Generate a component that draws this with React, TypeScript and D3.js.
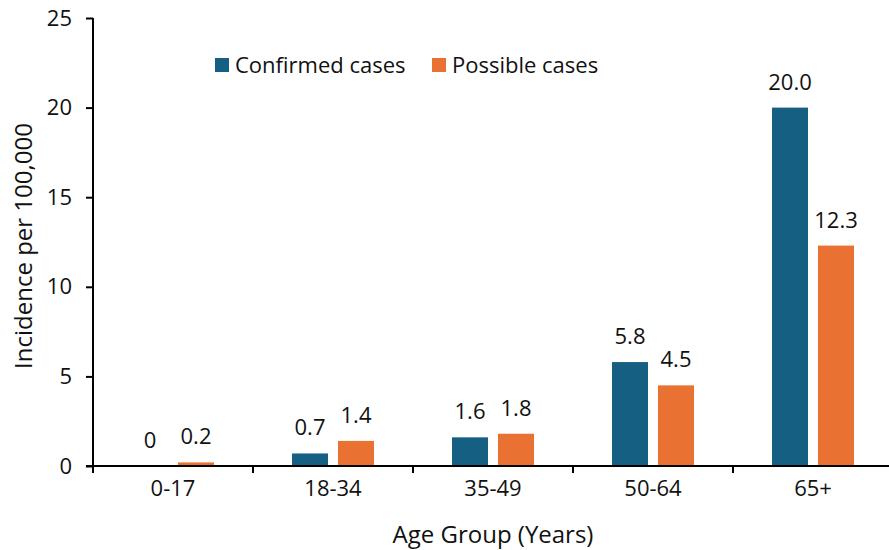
import React, { useEffect, useRef } from "react";
import * as d3 from "d3";

const ageGroups = ["0-17", "18-34", "35-49", "50-64", "65+"];
const confirmed = [0, 0.7, 1.6, 5.8, 20.0];
const possible = [0.2, 1.4, 1.8, 4.5, 12.3];
const confirmedLabels = ["0", "0.7", "1.6", "5.8", "20.0"];
const possibleLabels = ["0.2", "1.4", "1.8", "4.5", "12.3"];
const yTicks = [0, 5, 10, 15, 20, 25];

const seriesNames = ["Confirmed cases", "Possible cases"];
const colors = ["#156082", "#E97132"];

const W = 889;
const H = 550;
const FONT = "'Open Sans', sans-serif";

export default function App() {
  const ref = useRef<SVGSVGElement>(null);

  useEffect(() => {
    const svg = d3.select(ref.current);
    svg.selectAll("*").remove();

    const left = 93;
    const right = 893;
    const top = 18;
    const bottom = 466;

    const x = d3.scaleBand().domain(ageGroups).range([left, right]);
    const y = d3.scaleLinear().domain([0, 25]).range([bottom, top]);

    const barW = 36;
    const offset = 23;

    const series = [
      { values: confirmed, labels: confirmedLabels, dx: -offset },
      { values: possible, labels: possibleLabels, dx: offset },
    ];

    // bars + value labels
    series.forEach((s, si) => {
      svg.append("g")
        .selectAll("rect")
        .data(ageGroups)
        .enter()
        .append("rect")
        .attr("x", (d) => x(d)! + x.bandwidth() / 2 + s.dx - barW / 2)
        .attr("y", (d, i) => y(s.values[i]))
        .attr("width", barW)
        .attr("height", (d, i) => bottom - y(s.values[i]))
        .attr("fill", colors[si]);

      svg.append("g")
        .selectAll("text")
        .data(ageGroups)
        .enter()
        .append("text")
        .text((d, i) => s.labels[i])
        .attr("x", (d) => x(d)! + x.bandwidth() / 2 + s.dx)
        .attr("y", (d, i) => y(s.values[i]) - 18)
        .attr("text-anchor", "middle")
        .attr("font-family", FONT)
        .attr("font-size", 22)
        .attr("fill", "#111");
    });

    // y axis
    const yAxis = d3.axisLeft(y).tickValues(yTicks).tickSize(7).tickPadding(14);
    const gy = svg.append("g").attr("transform", `translate(${left},0)`).call(yAxis);
    gy.select(".domain").attr("stroke", "#000").attr("stroke-width", 2).attr("d", `M0,${top}V${bottom}`);
    gy.selectAll(".tick line").attr("stroke", "#000").attr("stroke-width", 2);
    gy.selectAll(".tick text")
      .attr("font-family", FONT)
      .attr("font-size", 22)
      .attr("fill", "#111");

    // x axis
    const boundaries = d3.range(ageGroups.length + 1).map((i) => left + i * x.bandwidth());
    svg.append("line")
      .attr("x1", left - 7)
      .attr("x2", W)
      .attr("y1", bottom)
      .attr("y2", bottom)
      .attr("stroke", "#000")
      .attr("stroke-width", 2);
    svg.append("g")
      .selectAll("line")
      .data(boundaries)
      .enter()
      .append("line")
      .attr("x1", (d) => d)
      .attr("x2", (d) => d)
      .attr("y1", bottom)
      .attr("y2", bottom + 7)
      .attr("stroke", "#000")
      .attr("stroke-width", 2);
    svg.append("g")
      .selectAll("text")
      .data(ageGroups)
      .enter()
      .append("text")
      .text((d) => d)
      .attr("x", (d) => x(d)! + x.bandwidth() / 2)
      .attr("y", 496)
      .attr("text-anchor", "middle")
      .attr("font-family", FONT)
      .attr("font-size", 22)
      .attr("fill", "#111");

    // axis titles
    svg.append("text")
      .text("Age Group (Years)")
      .attr("x", 493)
      .attr("y", 543)
      .attr("text-anchor", "middle")
      .attr("font-family", FONT)
      .attr("font-size", 24)
      .attr("fill", "#111");
    svg.append("text")
      .text("Incidence per 100,000")
      .attr("transform", "translate(32,246) rotate(-90)")
      .attr("text-anchor", "middle")
      .attr("font-family", FONT)
      .attr("font-size", 24)
      .attr("fill", "#111");

    // legend
    const legendX = [215, 432];
    seriesNames.forEach((name, i) => {
      svg.append("rect")
        .attr("x", legendX[i])
        .attr("y", 58)
        .attr("width", 14)
        .attr("height", 14)
        .attr("fill", colors[i]);
      svg.append("text")
        .text(name)
        .attr("x", legendX[i] + 20)
        .attr("y", 73)
        .attr("font-family", FONT)
        .attr("font-size", 22)
        .attr("fill", "#111");
    });
  }, []);

  return (
    <svg
      ref={ref}
      width={W}
      height={H}
      style={{ position: "absolute", left: 0, top: 0, background: "#fff" }}
    />
  );
}
